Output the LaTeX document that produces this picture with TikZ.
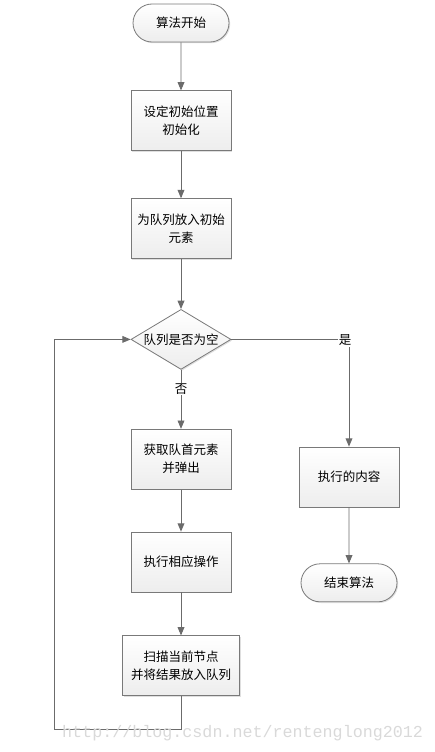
\documentclass[tikz,border=0pt]{standalone}
\usepackage{fontspec}
\newfontfamily\cjk{Noto Sans CJK SC}
\newfontfamily\wmfont{Liberation Mono}
\usetikzlibrary{calc,positioning,shapes,shadows,arrows}

\tikzset{
  box/.style={draw=gray!95!black, line width=0.8pt, top color=white, bottom color=gray!14,
    minimum width=100pt, minimum height=60pt, inner sep=2pt, align=center,
    font=\cjk\fontsize{12.5}{18}\selectfont,
    drop shadow={shadow xshift=1.2pt, shadow yshift=-1.2pt, opacity=0.25}},
  term/.style={box, rounded rectangle, minimum height=38pt},
  cond/.style={box, diamond, minimum width=100pt, minimum height=60pt, inner sep=0pt},
  line/.style={draw=black!58, line width=0.9pt},
  lbl/.style={fill=white, inner sep=1pt, font=\cjk\fontsize{12.5}{15}\selectfont}
}

\begin{document}
\begin{tikzpicture}[x=1pt,y=-1pt,>=triangle 45]
  \useasboundingbox (0,0) rectangle (435,752);
  \node(start) [term] at (181,23) {算法开始};
  \node(init) [box,below=48pt of start] {设定初始位置\\初始化};
  \node(push) [box,below=47pt of init] {为队列放入初始\\元素};
  \node(empty) [cond,below=50pt of push,
    label={[font=\cjk\fontsize{12.5}{15}\selectfont]center:队列是否为空}] {};
  \node(pop) [box,below=59pt of empty] {获取队首元素\\并弹出};
  \node(work) [box,below=42pt of pop] {执行相应操作};
  \node(scan) [box,below=43pt of work,minimum width=117pt] {扫描当前节点\\并将结果放入队列};
  \node(exec) [box] at (349,477) {执行的内容};
  \node(stop) [term,below=56pt of exec] {结束算法};
  \coordinate (back) at (54,729);

  \draw[line,->] (start) -- (init);
  \draw[line,->] (init) -- (push);
  \draw[line,->] (push) -- (empty);
  \draw[line,->] (empty) -- (pop);
  \draw[line,->] (pop) -- (work);
  \draw[line,->] (work) -- (scan);
  \draw[line] (scan.south) |- (back);
  \draw[line,->] (back) |- (empty.west);
  \draw[line,->] (empty.east) -| (exec.north);
  \draw[line,->] (exec) -- (stop);
  \node(no) [lbl] at (181,389) {否};
  \node(yes) [lbl] at (345,340) {是};

  \node(mark) [text=gray!30, font=\wmfont\fontsize{16.7}{18}\selectfont, anchor=west, inner sep=0pt]
    at (62,733) {http://blog.csdn.net/rentenglong2012};
\end{tikzpicture}
\end{document}
